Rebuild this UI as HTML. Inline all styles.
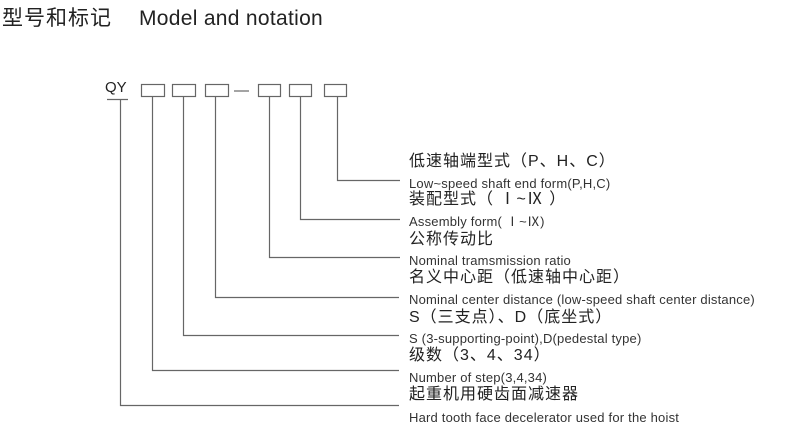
<!DOCTYPE html>
<html><head><meta charset="utf-8"><style>
body{margin:0;background:#fff;width:800px;height:440px;overflow:hidden;position:relative;font-family:"Liberation Sans","Noto Sans CJK SC",sans-serif;color:#222}
.t{position:absolute;white-space:nowrap;line-height:1}
.c{font-size:16px;left:409px;letter-spacing:1px}
.e{font-size:13px;left:409px;color:#333;letter-spacing:0.2px}
</style></head><body>
<div class="t" style="left:2px;top:8px;font-size:21px;letter-spacing:1px">型号和标记</div>
<div class="t" style="left:139px;top:8px;font-size:21px;letter-spacing:0.3px">Model and notation</div>
<div class="t" style="left:105px;top:80px;font-size:15px">QY</div>
<svg width="800" height="440" style="position:absolute;left:0;top:0" fill="none" stroke="#666" stroke-width="1.2">
<rect x="141.5" y="84.5" width="23" height="12"/>
<rect x="172.5" y="84.5" width="23" height="12"/>
<rect x="205.5" y="84.5" width="23" height="12"/>
<line x1="234" y1="91" x2="249" y2="91"/>
<rect x="258.5" y="84.5" width="22" height="12"/>
<rect x="289.5" y="84.5" width="22" height="12"/>
<rect x="324.5" y="84.5" width="22" height="12"/>
<line x1="107" y1="99.5" x2="128" y2="99.5"/>
<polyline points="120.5,100 120.5,405.5 399,405.5"/>
<polyline points="152.5,97 152.5,370.5 399,370.5"/>
<polyline points="183.5,97 183.5,335.5 399,335.5"/>
<polyline points="215.5,97 215.5,297.5 399,297.5"/>
<polyline points="269.5,97 269.5,257.5 400,257.5"/>
<polyline points="300.5,97 300.5,219.5 400,219.5"/>
<polyline points="337.5,97 337.5,180.5 400,180.5"/>
</svg>
<div class="t c" style="top:154px">低速轴端型式（P、H、C）</div>
<div class="t e" style="top:177px">Low~speed shaft end form(P,H,C)</div>
<div class="t c" style="top:192px">装配型式（ Ⅰ~Ⅸ ）</div>
<div class="t e" style="top:215px">Assembly form( Ⅰ~Ⅸ)</div>
<div class="t c" style="top:232px">公称传动比</div>
<div class="t e" style="top:254px">Nominal tramsmission ratio</div>
<div class="t c" style="top:270px">名义中心距（低速轴中心距）</div>
<div class="t e" style="top:293px">Nominal center distance (low-speed shaft center distance)</div>
<div class="t c" style="top:310px">S（三支点）、D（底坐式）</div>
<div class="t e" style="top:332px">S (3-supporting-point),D(pedestal type)</div>
<div class="t c" style="top:348px">级数（3、4、34）</div>
<div class="t e" style="top:371px">Number of step(3,4,34)</div>
<div class="t c" style="top:387px">起重机用硬齿面减速器</div>
<div class="t e" style="top:411px">Hard tooth face decelerator used for the hoist</div>
</body></html>
